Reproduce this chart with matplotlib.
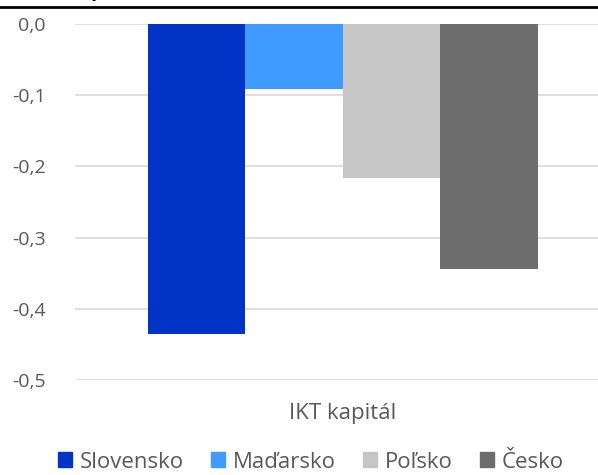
import matplotlib.pyplot as plt
import numpy as np

plt.rcParams['font.family'] = ['Open Sans', 'DejaVu Sans']

countries = ['Slovensko', 'Maďarsko', 'Poľsko', 'Česko']
values = [-0.435, -0.091, -0.216, -0.344]
colors = ['#0033c6', '#3f9bff', '#c6c6c6', '#6d6d6d']
category = 'IKT kapitál'
yticks = [0.0, -0.1, -0.2, -0.3, -0.4, -0.5]

W, H = 598, 475
fig = plt.figure(figsize=(W / 100, H / 100), dpi=100)
ax = fig.add_axes([75 / W, 1 - 380 / H, (W - 75) / W, (380 - 24) / H])

offsets = np.arange(len(countries)) - (len(countries) - 1) / 2
for off, v, c, name in zip(offsets, values, colors, countries):
    ax.bar(off, v, width=1.0, color=c, label=name, zorder=3)

ax.set_ylim(-0.5, 0.0)
ax.set_xlim(-2.75, 2.62)
ax.set_yticks(yticks)
ax.set_yticklabels([f'{t:.1f}'.replace('.', ',') for t in yticks])
ax.set_xticks([])
ax.grid(axis='y', color='#d9d9d9', linewidth=1.2, zorder=0)
for s in ax.spines.values():
    s.set_visible(False)
ax.tick_params(axis='y', length=0, pad=21, labelsize=14, labelcolor='#595959')
ax.set_ylim(-0.5, 0.0)

fig.text(343 / W, 1 - 413 / H, category, ha='center', va='center',
         fontsize=16, color='#595959')

handles = [plt.Rectangle((0, 0), 1, 1, color=c) for c in colors]
fig.legend(handles, countries, loc='center', bbox_to_anchor=(311 / W, 1 - 462 / H),
           ncol=4, frameon=False, fontsize=16, labelcolor='#595959',
           handlelength=0.65, handleheight=0.65, handletextpad=0.35, columnspacing=1.2)

# clipped title remnant and rule at the top
fig.text(140 / W, 1 + 4 / H, 'zmena, p. b.)', ha='right', va='baseline',
         fontsize=14, fontweight='bold', fontstyle='italic', color='black')
fig.add_artist(plt.Line2D([0, 1], [1 - 6.5 / H, 1 - 6.5 / H], color='black', linewidth=2))

fig.savefig('out.png', dpi=100)
